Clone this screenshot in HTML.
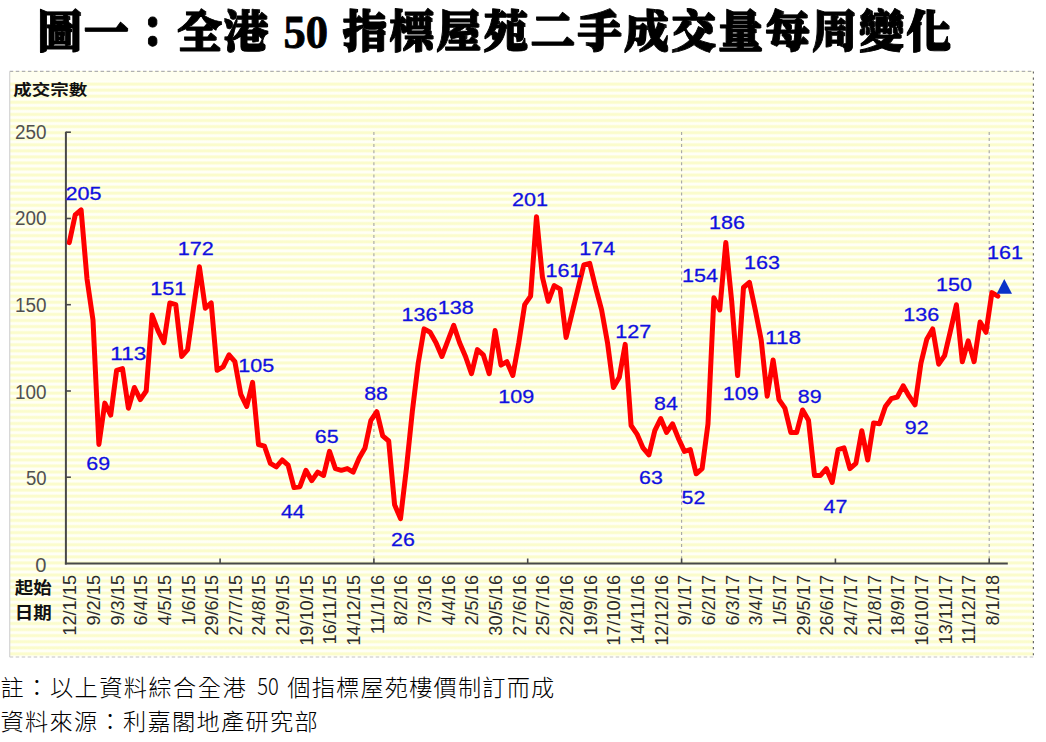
<!DOCTYPE html>
<html lang="zh-Hant"><head><meta charset="utf-8"><title>圖一：全港 50 指標屋苑二手成交量每周變化</title>
<style>
html,body{margin:0;padding:0;background:#fff;}
body{width:1046px;height:742px;overflow:hidden;position:relative;}
svg{position:absolute;left:0;top:0;display:block;}
.ttl{font-family:"Liberation Serif","Noto Serif CJK TC","Noto Serif CJK SC",serif;font-weight:900;fill:#000;stroke:#000;stroke-width:0.9px;stroke-linejoin:round;}
.sans{font-family:"Liberation Sans","Noto Sans CJK TC","Noto Sans CJK SC",sans-serif;}
.dl{font-family:"Liberation Sans",sans-serif;font-size:18.6px;fill:#1010e0;stroke:#1010e0;stroke-width:0.28px;}
.yl{font-family:"Liberation Sans",sans-serif;font-size:19.5px;fill:#505050;}
.xl{font-family:"Liberation Sans",sans-serif;font-size:18.2px;fill:#2c2c2c;}
.cb{font-family:"Liberation Sans","Noto Sans CJK TC","Noto Sans CJK SC",sans-serif;font-weight:700;fill:#111;}
.ft{font-family:"Liberation Sans","Noto Sans CJK TC","Noto Sans CJK SC",sans-serif;font-weight:300;fill:#000;}
#cbx{position:absolute;left:9.7px;top:71.4px;width:1023.7px;height:585.6px;overflow:hidden;background:#fffff9;}
#cbs{position:absolute;left:0;top:-2.2px;width:100%;height:600px;background:repeating-linear-gradient(to bottom,#fffff6 0px,#fffff6 0.7px,#fbfccc 2.3px,#fbfccc 3.76px,#fffff6 5.36px,#fffff6 6.06px);}
</style></head><body><div id="cbx"><div id="cbs"></div></div>
<svg width="1046" height="742" viewBox="0 0 1046 742">
<defs><filter id="hv" x="-2%" y="-10%" width="104%" height="120%"><feMorphology operator="dilate" radius="0.01 1"/></filter></defs>
<rect x="9.7" y="71.4" width="1023.7" height="9" fill="#fffff0"/>
<line x1="9.7" y1="71.4" x2="1033.4" y2="71.4" stroke="#b0b0b0" stroke-width="1.2" stroke-dasharray="3.5 2.56"/>
<line x1="9.7" y1="657" x2="1033.4" y2="657" stroke="#c4c4c4" stroke-width="1.2" stroke-dasharray="3.5 2.5"/>
<line x1="9.7" y1="71.4" x2="9.7" y2="657" stroke="#d4d4d4" stroke-width="1.2"/>
<line x1="1033.4" y1="71.4" x2="1033.4" y2="657" stroke="#6a6a6a" stroke-width="1.2" stroke-dasharray="2.2 3.86"/>
<line x1="373.9" y1="132" x2="373.9" y2="563.5" stroke="#a6a6a6" stroke-width="1.1" stroke-dasharray="3 3.06"/>
<line x1="681.6" y1="132" x2="681.6" y2="563.5" stroke="#a6a6a6" stroke-width="1.1" stroke-dasharray="3 3.06"/>
<line x1="989.2" y1="132" x2="989.2" y2="563.5" stroke="#a6a6a6" stroke-width="1.1" stroke-dasharray="3 3.06"/>
<line x1="65.9" y1="131.8" x2="65.9" y2="564.5" stroke="#484848" stroke-width="2"/>
<line x1="64.9" y1="563.5" x2="1007.8" y2="563.5" stroke="#484848" stroke-width="2"/>
<line x1="65.9" y1="477.2" x2="70.9" y2="477.2" stroke="#484848" stroke-width="1.6"/>
<line x1="65.9" y1="391.0" x2="70.9" y2="391.0" stroke="#484848" stroke-width="1.6"/>
<line x1="65.9" y1="304.7" x2="70.9" y2="304.7" stroke="#484848" stroke-width="1.6"/>
<line x1="65.9" y1="218.5" x2="70.9" y2="218.5" stroke="#484848" stroke-width="1.6"/>
<line x1="65.9" y1="132.2" x2="70.9" y2="132.2" stroke="#484848" stroke-width="1.6"/>
<line x1="220.1" y1="558.5" x2="220.1" y2="563.5" stroke="#484848" stroke-width="1.6"/>
<line x1="373.9" y1="558.5" x2="373.9" y2="563.5" stroke="#484848" stroke-width="1.6"/>
<line x1="527.7" y1="558.5" x2="527.7" y2="563.5" stroke="#484848" stroke-width="1.6"/>
<line x1="681.6" y1="558.5" x2="681.6" y2="563.5" stroke="#484848" stroke-width="1.6"/>
<line x1="835.4" y1="558.5" x2="835.4" y2="563.5" stroke="#484848" stroke-width="1.6"/>
<line x1="989.2" y1="558.5" x2="989.2" y2="563.5" stroke="#484848" stroke-width="1.6"/>
<text class="yl" x="35.3" y="571.7" textLength="11.2" lengthAdjust="spacingAndGlyphs">0</text>
<text class="yl" x="25.9" y="485.1" textLength="20.6" lengthAdjust="spacingAndGlyphs">50</text>
<text class="yl" x="15.0" y="398.5" textLength="31.5" lengthAdjust="spacingAndGlyphs">100</text>
<text class="yl" x="15.0" y="311.9" textLength="31.5" lengthAdjust="spacingAndGlyphs">150</text>
<text class="yl" x="15.0" y="225.4" textLength="31.5" lengthAdjust="spacingAndGlyphs">200</text>
<text class="yl" x="15.0" y="139.1" textLength="31.5" lengthAdjust="spacingAndGlyphs">250</text>
<text class="cb" x="13.2" y="94.8" font-size="15.2" textLength="74" lengthAdjust="spacingAndGlyphs">成交宗數</text>
<text class="cb" x="14.8" y="594" font-size="16.5" textLength="37" lengthAdjust="spacingAndGlyphs">起始</text>
<text class="cb" x="14.8" y="618.5" font-size="16.5" textLength="37" lengthAdjust="spacingAndGlyphs">日期</text>
<text class="xl" text-anchor="end" transform="translate(76.2,575) rotate(-90) scale(1,1.04)" x="0" y="0">12/1/15</text>
<text class="xl" text-anchor="end" transform="translate(99.9,575) rotate(-90) scale(1,1.04)" x="0" y="0">9/2/15</text>
<text class="xl" text-anchor="end" transform="translate(123.5,575) rotate(-90) scale(1,1.04)" x="0" y="0">9/3/15</text>
<text class="xl" text-anchor="end" transform="translate(147.2,575) rotate(-90) scale(1,1.04)" x="0" y="0">6/4/15</text>
<text class="xl" text-anchor="end" transform="translate(170.8,575) rotate(-90) scale(1,1.04)" x="0" y="0">4/5/15</text>
<text class="xl" text-anchor="end" transform="translate(194.5,575) rotate(-90) scale(1,1.04)" x="0" y="0">1/6/15</text>
<text class="xl" text-anchor="end" transform="translate(218.1,575) rotate(-90) scale(1,1.04)" x="0" y="0">29/6/15</text>
<text class="xl" text-anchor="end" transform="translate(241.8,575) rotate(-90) scale(1,1.04)" x="0" y="0">27/7/15</text>
<text class="xl" text-anchor="end" transform="translate(265.4,575) rotate(-90) scale(1,1.04)" x="0" y="0">24/8/15</text>
<text class="xl" text-anchor="end" transform="translate(289.1,575) rotate(-90) scale(1,1.04)" x="0" y="0">21/9/15</text>
<text class="xl" text-anchor="end" transform="translate(312.8,575) rotate(-90) scale(1,1.04)" x="0" y="0">19/10/15</text>
<text class="xl" text-anchor="end" transform="translate(336.4,575) rotate(-90) scale(1,1.04)" x="0" y="0">16/11/15</text>
<text class="xl" text-anchor="end" transform="translate(360.1,575) rotate(-90) scale(1,1.04)" x="0" y="0">14/12/15</text>
<text class="xl" text-anchor="end" transform="translate(383.7,575) rotate(-90) scale(1,1.04)" x="0" y="0">11/1/16</text>
<text class="xl" text-anchor="end" transform="translate(407.4,575) rotate(-90) scale(1,1.04)" x="0" y="0">8/2/16</text>
<text class="xl" text-anchor="end" transform="translate(431.0,575) rotate(-90) scale(1,1.04)" x="0" y="0">7/3/16</text>
<text class="xl" text-anchor="end" transform="translate(454.7,575) rotate(-90) scale(1,1.04)" x="0" y="0">4/4/16</text>
<text class="xl" text-anchor="end" transform="translate(478.4,575) rotate(-90) scale(1,1.04)" x="0" y="0">2/5/16</text>
<text class="xl" text-anchor="end" transform="translate(502.0,575) rotate(-90) scale(1,1.04)" x="0" y="0">30/5/16</text>
<text class="xl" text-anchor="end" transform="translate(525.7,575) rotate(-90) scale(1,1.04)" x="0" y="0">27/6/16</text>
<text class="xl" text-anchor="end" transform="translate(549.3,575) rotate(-90) scale(1,1.04)" x="0" y="0">25/7/16</text>
<text class="xl" text-anchor="end" transform="translate(573.0,575) rotate(-90) scale(1,1.04)" x="0" y="0">22/8/16</text>
<text class="xl" text-anchor="end" transform="translate(596.6,575) rotate(-90) scale(1,1.04)" x="0" y="0">19/9/16</text>
<text class="xl" text-anchor="end" transform="translate(620.3,575) rotate(-90) scale(1,1.04)" x="0" y="0">17/10/16</text>
<text class="xl" text-anchor="end" transform="translate(643.9,575) rotate(-90) scale(1,1.04)" x="0" y="0">14/11/16</text>
<text class="xl" text-anchor="end" transform="translate(667.6,575) rotate(-90) scale(1,1.04)" x="0" y="0">12/12/16</text>
<text class="xl" text-anchor="end" transform="translate(691.3,575) rotate(-90) scale(1,1.04)" x="0" y="0">9/1/17</text>
<text class="xl" text-anchor="end" transform="translate(714.9,575) rotate(-90) scale(1,1.04)" x="0" y="0">6/2/17</text>
<text class="xl" text-anchor="end" transform="translate(738.6,575) rotate(-90) scale(1,1.04)" x="0" y="0">6/3/17</text>
<text class="xl" text-anchor="end" transform="translate(762.2,575) rotate(-90) scale(1,1.04)" x="0" y="0">3/4/17</text>
<text class="xl" text-anchor="end" transform="translate(785.9,575) rotate(-90) scale(1,1.04)" x="0" y="0">1/5/17</text>
<text class="xl" text-anchor="end" transform="translate(809.5,575) rotate(-90) scale(1,1.04)" x="0" y="0">29/5/17</text>
<text class="xl" text-anchor="end" transform="translate(833.2,575) rotate(-90) scale(1,1.04)" x="0" y="0">26/6/17</text>
<text class="xl" text-anchor="end" transform="translate(856.8,575) rotate(-90) scale(1,1.04)" x="0" y="0">24/7/17</text>
<text class="xl" text-anchor="end" transform="translate(880.5,575) rotate(-90) scale(1,1.04)" x="0" y="0">21/8/17</text>
<text class="xl" text-anchor="end" transform="translate(904.2,575) rotate(-90) scale(1,1.04)" x="0" y="0">18/9/17</text>
<text class="xl" text-anchor="end" transform="translate(927.8,575) rotate(-90) scale(1,1.04)" x="0" y="0">16/10/17</text>
<text class="xl" text-anchor="end" transform="translate(951.5,575) rotate(-90) scale(1,1.04)" x="0" y="0">13/11/17</text>
<text class="xl" text-anchor="end" transform="translate(975.1,575) rotate(-90) scale(1,1.04)" x="0" y="0">11/12/17</text>
<text class="xl" text-anchor="end" transform="translate(998.8,575) rotate(-90) scale(1,1.04)" x="0" y="0">8/1/18</text>
<polyline points="69.3,242.6 75.2,215.0 81.1,209.8 87.0,278.8 93.0,320.2 98.9,444.5 104.8,403.1 110.7,415.1 116.6,370.3 122.5,368.6 128.4,408.2 134.4,387.5 140.3,399.6 146.2,391.0 152.1,315.1 158.0,330.6 163.9,342.7 169.8,303.0 175.8,304.7 181.7,356.5 187.6,349.6 193.5,308.2 199.4,266.8 205.3,308.2 211.2,303.0 217.1,370.3 223.1,366.8 229.0,354.8 234.9,361.7 240.8,394.4 246.7,406.5 252.6,382.4 258.5,444.5 264.5,446.2 270.4,463.4 276.3,466.9 282.2,460.0 288.1,465.2 294.0,487.6 299.9,486.7 305.9,470.3 311.8,480.7 317.7,472.1 323.6,475.5 329.5,451.4 335.4,468.6 341.3,470.3 347.3,468.6 353.2,472.1 359.1,458.3 365.0,447.9 370.9,420.3 376.8,411.7 382.7,435.8 388.7,441.0 394.6,504.8 400.5,518.6 406.4,468.6 412.3,411.7 418.2,363.4 424.1,328.9 430.1,332.3 436.0,342.7 441.9,356.5 447.8,340.9 453.7,325.4 459.6,342.7 465.5,356.5 471.5,373.7 477.4,349.6 483.3,354.8 489.2,373.7 495.1,330.6 501.0,365.1 506.9,361.7 512.8,375.5 518.8,342.7 524.7,304.7 530.6,296.1 536.5,216.7 542.4,277.1 548.3,301.3 554.2,285.7 560.2,289.2 566.1,337.5 572.0,313.3 577.9,289.2 583.8,265.0 589.7,263.3 595.6,287.5 601.6,309.9 607.5,342.7 613.4,387.5 619.3,377.2 625.2,344.4 631.1,425.5 637.0,434.1 643.0,447.9 648.9,454.8 654.8,430.7 660.7,418.6 666.6,432.4 672.5,423.8 678.4,438.4 684.4,451.4 690.3,449.6 696.2,473.8 702.1,468.6 708.0,423.8 713.9,297.8 719.8,309.9 725.8,242.6 731.7,301.3 737.6,375.5 743.5,287.5 749.4,282.3 755.3,309.9 761.2,340.1 767.2,396.2 773.1,359.9 779.0,399.6 784.9,408.2 790.8,432.4 796.7,432.4 802.6,410.0 808.5,420.3 814.5,475.5 820.4,475.5 826.3,468.6 832.2,482.4 838.1,449.6 844.0,447.9 849.9,468.6 855.9,463.4 861.8,430.7 867.7,460.0 873.6,422.9 879.5,423.8 885.4,406.5 891.3,398.7 897.3,397.0 903.2,385.8 909.1,396.2 915.0,404.8 920.9,363.4 926.8,339.2 932.7,328.9 938.7,364.2 944.6,355.6 950.5,330.6 956.4,304.7 962.3,361.7 968.2,340.9 974.1,361.7 980.1,322.0 986.0,332.3 991.9,292.6 997.8,296.1" fill="none" stroke="#ff0000" stroke-width="5" stroke-linejoin="round" stroke-linecap="round"/>
<polygon points="1004.3,279 1012,293.8 996.7,293.8" fill="#0a32c8"/>
<text class="dl" x="65.5" y="199.5" textLength="36" lengthAdjust="spacingAndGlyphs">205</text>
<text class="dl" x="110.3" y="360.3" textLength="36" lengthAdjust="spacingAndGlyphs">113</text>
<text class="dl" x="86.3" y="469.8" textLength="23.8" lengthAdjust="spacingAndGlyphs">69</text>
<text class="dl" x="150.3" y="295.3" textLength="36" lengthAdjust="spacingAndGlyphs">151</text>
<text class="dl" x="177.8" y="254.9" textLength="36" lengthAdjust="spacingAndGlyphs">172</text>
<text class="dl" x="238.3" y="372.0" textLength="36" lengthAdjust="spacingAndGlyphs">105</text>
<text class="dl" x="280.9" y="518.0" textLength="23.8" lengthAdjust="spacingAndGlyphs">44</text>
<text class="dl" x="314.8" y="443.0" textLength="23.8" lengthAdjust="spacingAndGlyphs">65</text>
<text class="dl" x="364.2" y="399.9" textLength="23.8" lengthAdjust="spacingAndGlyphs">88</text>
<text class="dl" x="391.1" y="546.4" textLength="23.8" lengthAdjust="spacingAndGlyphs">26</text>
<text class="dl" x="498.3" y="402.9" textLength="36" lengthAdjust="spacingAndGlyphs">109</text>
<text class="dl" x="401.6" y="321.0" textLength="36" lengthAdjust="spacingAndGlyphs">136</text>
<text class="dl" x="437.8" y="313.5" textLength="36" lengthAdjust="spacingAndGlyphs">138</text>
<text class="dl" x="511.9" y="205.7" textLength="36" lengthAdjust="spacingAndGlyphs">201</text>
<text class="dl" x="545.5" y="277.3" textLength="36" lengthAdjust="spacingAndGlyphs">161</text>
<text class="dl" x="579.3" y="254.9" textLength="36" lengthAdjust="spacingAndGlyphs">174</text>
<text class="dl" x="615.3" y="337.7" textLength="36" lengthAdjust="spacingAndGlyphs">127</text>
<text class="dl" x="682.0" y="282.3" textLength="36" lengthAdjust="spacingAndGlyphs">154</text>
<text class="dl" x="709.0" y="228.7" textLength="36" lengthAdjust="spacingAndGlyphs">186</text>
<text class="dl" x="743.9" y="268.6" textLength="36" lengthAdjust="spacingAndGlyphs">163</text>
<text class="dl" x="765.1" y="344.2" textLength="36" lengthAdjust="spacingAndGlyphs">118</text>
<text class="dl" x="654.1" y="410.4" textLength="23.8" lengthAdjust="spacingAndGlyphs">84</text>
<text class="dl" x="639.1" y="483.5" textLength="23.8" lengthAdjust="spacingAndGlyphs">63</text>
<text class="dl" x="681.5" y="504.2" textLength="23.8" lengthAdjust="spacingAndGlyphs">52</text>
<text class="dl" x="722.7" y="399.9" textLength="36" lengthAdjust="spacingAndGlyphs">109</text>
<text class="dl" x="797.8" y="402.9" textLength="23.8" lengthAdjust="spacingAndGlyphs">89</text>
<text class="dl" x="823.5" y="512.7" textLength="23.8" lengthAdjust="spacingAndGlyphs">47</text>
<text class="dl" x="904.8" y="433.6" textLength="23.8" lengthAdjust="spacingAndGlyphs">92</text>
<text class="dl" x="903.3" y="321.0" textLength="36" lengthAdjust="spacingAndGlyphs">136</text>
<text class="dl" x="936.0" y="291.1" textLength="36" lengthAdjust="spacingAndGlyphs">150</text>
<text class="dl" x="986.9" y="258.7" textLength="36" lengthAdjust="spacingAndGlyphs">161</text>
<g filter="url(#hv)">
<text class="ttl" transform="scale(1,0.95)" font-size="45" x="37.2" y="49.9" letter-spacing="1.6">圖一：全港</text>
<text class="ttl" transform="scale(1,0.95)" font-size="45" x="342.2" y="49.9" letter-spacing="2.0">指標屋苑二手成交量每周變化</text>
</g>
<text class="ttl" font-size="46" x="283.6" y="47.5" textLength="44.5" stroke-width="0.15" lengthAdjust="spacingAndGlyphs">50</text>
<text class="ft" font-size="23.2" x="0.6" y="696" textLength="245" lengthAdjust="spacing">註：以上資料綜合全港</text>
<text class="ft" style="font-family:'Noto Sans CJK TC','Noto Sans CJK SC',sans-serif" font-size="23.4" x="257.3" y="695.2" textLength="21.5" lengthAdjust="spacingAndGlyphs">50</text>
<text class="ft" font-size="23.2" x="287.3" y="696" textLength="267" lengthAdjust="spacing">個指標屋苑樓價制訂而成</text>
<text class="ft" font-size="23.2" x="0.6" y="729.8" textLength="317" lengthAdjust="spacing">資料來源：利嘉閣地產研究部</text>
</svg></body></html>
